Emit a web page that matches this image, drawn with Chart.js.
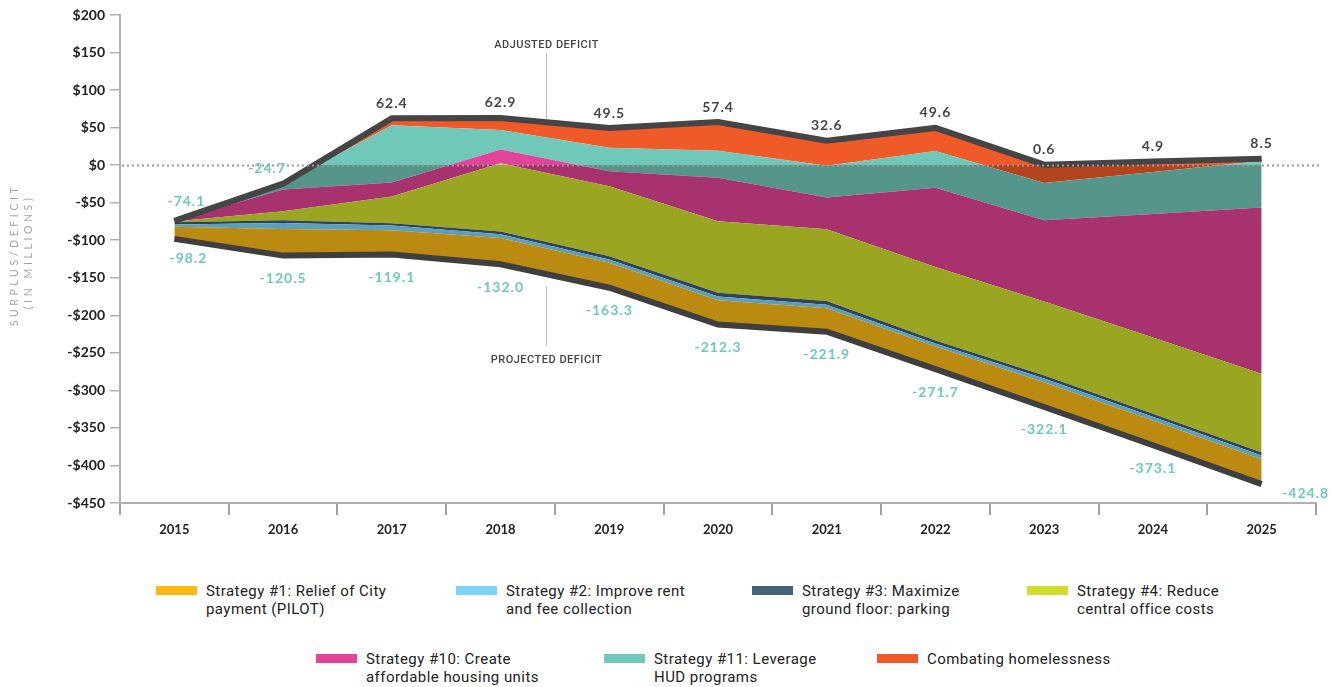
<!DOCTYPE html>
<html><head><meta charset="utf-8">
<script src="https://cdn.jsdelivr.net/npm/chart.js@4.4.1/dist/chart.umd.min.js"></script>
<style>
html,body{margin:0;padding:0;background:#fff;width:1330px;height:687px;overflow:hidden}
#wrap{position:absolute;left:0;top:0;width:1330px;height:560px}
.lg{position:absolute;display:flex;align-items:flex-start;font:15px/18px Roboto,"Noto Sans",sans-serif;letter-spacing:0.45px;color:#222;white-space:nowrap}
.sw{width:41px;height:9px;margin-top:4px;margin-right:9px;flex:none}
</style></head>
<body>
<div id="wrap"><canvas id="c" width="1330" height="560"></canvas></div>
<div id="legend"></div>
<script>
// ---- data ----
const years = ['2015','2016','2017','2018','2019','2020','2021','2022','2023','2024','2025'];
const projectedDeficit = [-98.2, -120.5, -119.1, -132.0, -163.3, -212.3, -221.9, -271.7, -322.1, -373.1, -424.8];
const adjustedDeficit  = [-74.1, -24.7, 62.4, 62.9, 49.5, 57.4, 32.6, 49.6, 0.6, 4.9, 8.5];
const strategy1  = [16, 35.5, 32.4, 35, 33.3, 32.3, 31.4, 30, 33, 33, 33];
const strategy2  = [3, 8, 6.3, 5, 4.5, 5, 4.5, 4, 5, 5, 5];
const strategy3  = [3, 3.5, 3, 3.5, 4, 5, 5, 4, 4, 4, 4];
const strategy4  = [1, 12, 35.6, 91, 93.5, 95.3, 95.7, 98, 98.5, 101.5, 105];
const strategy10 = [1, 29, 18.6, 18.4, 20, 57.8, 42.2, 105.5, 108.2, 164.6, 221.4];
const strategy11 = [0.1, 7.3, 76.5, 25.8, 31.1, 36, 42.2, 48.9, 49.7, 56, 61.9];
const homelessness = [0, 0.5, 9.1, 16.2, 26.4, 38.3, 33.5, 30.9, 24.2, 13.9, 3];
const yTicks = [200,150,100,50,0,-50,-100,-150,-200,-250,-300,-350,-400,-450];

const layers = [
  {label:'Strategy #1: Relief of City|payment (PILOT)', data:strategy1, light:'#fdb913', dark:'#bb8a10'},
  {label:'Strategy #2: Improve rent|and fee collection', data:strategy2, light:'#7dd3f7', dark:'#5a9fbd'},
  {label:'Strategy #3: Maximize|ground floor: parking', data:strategy3, light:'#466277', dark:'#2f4456'},
  {label:'Strategy #4: Reduce|central office costs', data:strategy4, light:'#d2dc2c', dark:'#9aa622'},
  {label:'Strategy #10: Create|affordable housing units', data:strategy10, light:'#e2449a', dark:'#a8326e'},
  {label:'Strategy #11: Leverage|HUD programs', data:strategy11, light:'#6fc8b8', dark:'#55958a'},
  {label:'Combating homelessness', data:homelessness, light:'#f05a28', dark:'#b4441e'}
];

function split(light, dark){
  return (ctx) => {
    const chart = ctx.chart, a = chart.chartArea;
    if (!a) return light;
    const y0 = chart.scales.y.getPixelForValue(0);
    const t = Math.min(Math.max((y0 - a.top)/(a.bottom - a.top), 0), 1);
    const g = chart.ctx.createLinearGradient(0, a.top, 0, a.bottom);
    g.addColorStop(0, light); g.addColorStop(t, light); g.addColorStop(t, dark); g.addColorStop(1, dark);
    return g;
  };
}

const datasets = [
  {label:'adjusted', data:adjustedDeficit, borderColor:'#454545', borderWidth:6, pointRadius:0, fill:false, borderJoinStyle:'miter', tension:0},
  {label:'projected', data:projectedDeficit, borderColor:'#3f3f3f', borderWidth:6, pointRadius:0, fill:false, borderJoinStyle:'miter', tension:0}
];
let cum = projectedDeficit.slice();
layers.forEach(l => {
  cum = cum.map((v,i) => v + l.data[i]);
  datasets.push({label:l.label, data:cum.slice(), borderWidth:0, pointRadius:0, fill:'-1', tension:0,
    backgroundColor: split(l.light, l.dark), borderColor:'rgba(0,0,0,0)'});
});

const deco = {
  id:'deco',
  afterDatasetsDraw(chart){
    const ctx = chart.ctx, a = chart.chartArea, y = chart.scales.y, x = chart.scales.x;
    // zero dotted line
    const y0 = Math.round(y.getPixelForValue(0)) + 0.5;
    ctx.save();
    ctx.strokeStyle = '#9a9a9a'; ctx.lineWidth = 2; ctx.setLineDash([2,3]);
    ctx.beginPath(); ctx.moveTo(a.left + 2, y0); ctx.lineTo(a.right + 4, y0); ctx.stroke();
    ctx.restore();

    const adj = chart.getDatasetMeta(0).data, proj = chart.getDatasetMeta(1).data;
    ctx.save();
    ctx.textAlign = 'center'; ctx.textBaseline = 'middle';
    ctx.font = 'bold 14px Lato, "Open Sans", sans-serif';
    try { ctx.letterSpacing = '1px'; } catch(e) {}
    adjustedDeficit.forEach((v,i) => {
      const p = adj[i];
      if (v < 0) {
        ctx.fillStyle = '#6ccabd';
        if (i === 0) ctx.fillText(v.toFixed(1), p.x + 12, p.y - 19);
        else ctx.fillText(v.toFixed(1), p.x - 16, p.y - 15);
      } else {
        ctx.fillStyle = '#474747';
        ctx.fillText(v.toFixed(1), p.x, p.y - 15);
      }
    });
    ctx.fillStyle = '#6ccabd';
    projectedDeficit.forEach((v,i) => {
      const p = proj[i];
      let dx = 0, dy = 23;
      if (i === 0) { dx = 14; dy = 20; }
      if (i === projectedDeficit.length - 1) { dx = 44; dy = 9; }
      ctx.fillText(v.toFixed(1), p.x + dx, p.y + dy);
    });
    ctx.restore();

    // annotations
    const ax = Math.round(x.getPixelForValue(3) + (x.getPixelForValue(4) - x.getPixelForValue(3)) * 0.42) + 0.5;
    ctx.save();
    ctx.strokeStyle = '#bdbdbd'; ctx.lineWidth = 1;
    ctx.beginPath();
    ctx.moveTo(ax, 53); ctx.lineTo(ax, adj[3].y + (adj[4].y - adj[3].y) * 0.42 - 3);
    ctx.moveTo(ax, proj[3].y + (proj[4].y - proj[3].y) * 0.42 + 12); ctx.lineTo(ax, 346);
    ctx.stroke();
    ctx.fillStyle = '#444'; ctx.textAlign = 'center'; ctx.textBaseline = 'middle';
    ctx.font = '500 11px Roboto, sans-serif';
    try { ctx.letterSpacing = '0.5px'; } catch(e) {}
    ctx.fillText('ADJUSTED DEFICIT', ax, 45);
    ctx.fillText('PROJECTED DEFICIT', ax, 360);
    ctx.restore();

    // y title
    ctx.save();
    ctx.fillStyle = '#a5a5a5'; ctx.textAlign = 'center'; ctx.textBaseline = 'middle';
    ctx.font = '10.5px Lato, sans-serif';
    try { ctx.letterSpacing = '3.6px'; } catch(e) {}
    ctx.translate(15, 255); ctx.rotate(-Math.PI/2);
    ctx.fillText('SURPLUS/DEFICIT', 0, 0);
    ctx.fillText('(IN MILLIONS)', 3, 14);
    ctx.restore();
  }
};

new Chart(document.getElementById('c'), {
  type:'line',
  data:{labels:years, datasets},
  options:{
    responsive:false, animation:false,
    layout:{padding:{top:15, right:14, left:0, bottom:0}},
    plugins:{legend:{display:false}, tooltip:{enabled:false}},
    elements:{line:{borderCapStyle:'butt'}},
    scales:{
      x:{
        offset:true,
        grid:{offset:true, drawOnChartArea:false, drawTicks:true, tickLength:12, color:'#a0a0a0', lineWidth:2},
        border:{color:'#b0b0b0', width:2},
        ticks:{color:'#222', font:{family:'Lato, "Open Sans", sans-serif', size:13, weight:'bold'}, padding:7, maxRotation:0},
        afterFit(s){ s.height = 57; }
      },
      y:{
        min:-450, max:200,
        afterBuildTicks(s){ s.ticks = yTicks.map(v => ({value:v})); },
        grid:{drawOnChartArea:false, drawTicks:true, tickLength:10, color:'#b0b0b0', lineWidth:1.5},
        border:{color:'#b0b0b0', width:2},
        ticks:{color:'#222', font:{family:'Lato, "Open Sans", sans-serif', size:14, weight:'bold'}, padding:5,
          callback:(v) => (v < 0 ? '-$' + Math.abs(v) : '$' + v)},
        afterFit(s){ s.width = 120; }
      }
    }
  },
  plugins:[deco]
});

// legend (HTML)
const legendPos = [[156,588],[456,588],[752,588],[1027,588],[316,656],[604,656],[877,656]];
const lg = document.getElementById('legend');
layers.forEach((l,i) => {
  const d = document.createElement('div');
  d.className = 'lg';
  d.style.left = legendPos[i][0] + 'px'; d.style.top = (legendPos[i][1] - 6) + 'px';
  const sw = document.createElement('div'); sw.className = 'sw'; sw.style.background = l.light;
  const t = document.createElement('div');
  l.label.split('|').forEach((line, k) => {
    if (k) t.appendChild(document.createElement('br'));
    t.appendChild(document.createTextNode(line));
  });
  d.appendChild(sw); d.appendChild(t); lg.appendChild(d);
});
</script>
</body></html>
